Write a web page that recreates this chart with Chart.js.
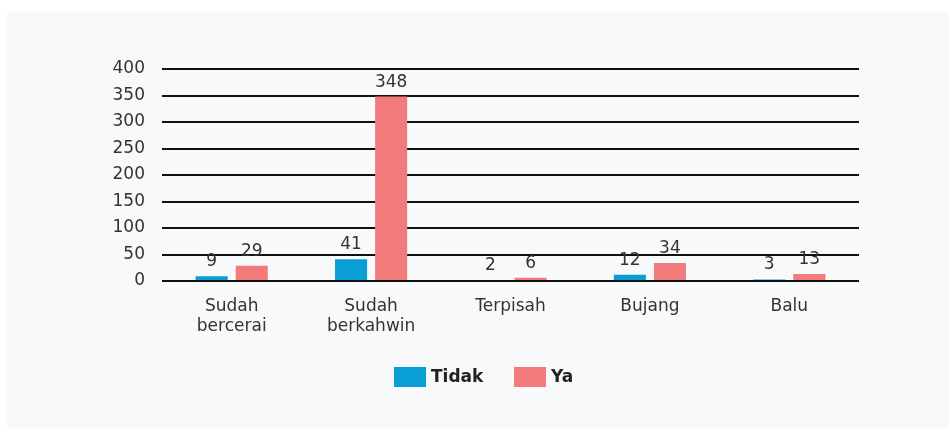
<!DOCTYPE html>
<html>
<head>
<meta charset="utf-8">
<script src="https://cdn.jsdelivr.net/npm/chart.js@4/dist/chart.umd.min.js"></script>
<style>
  html, body { margin: 0; padding: 0; background: #ffffff; }
  #panel { position: absolute; left: 7px; top: 12px; width: 942px; height: 416px; background: #f8f9fb; }
  #c { position: absolute; left: 0; top: 0; }
</style>
</head>
<body>
<div id="panel"></div>
<canvas id="c" width="949" height="428"></canvas>
<script>
const categories = [["Sudah", "bercerai"], ["Sudah", "berkahwin"], "Terpisah", "Bujang", "Balu"];
const tidakValues = [9, 41, 2, 12, 3];
const yaValues = [29, 348, 6, 34, 13];
const yTicks = [0, 50, 100, 150, 200, 250, 300, 350, 400];
const seriesNames = ["Tidak", "Ya"];
const seriesColors = ["#0a9ed6", "#f27b7b"];

const FONT = "'DejaVu Sans', 'Open Sans', sans-serif";
const TEXT = "#333333";

const valueLabels = {
  id: 'valueLabels',
  afterDatasetsDraw(chart) {
    const ctx = chart.ctx;
    ctx.save();
    ctx.font = "17px " + FONT;
    ctx.fillStyle = TEXT;
    ctx.textAlign = 'center';
    ctx.textBaseline = 'alphabetic';
    chart.data.datasets.forEach((ds, i) => {
      chart.getDatasetMeta(i).data.forEach((bar, j) => {
        ctx.fillText(String(ds.data[j]), bar.x, bar.y - 10);
      });
    });
    ctx.restore();
  }
};

const customLegend = {
  id: 'customLegend',
  afterDraw(chart) {
    const ctx = chart.ctx;
    ctx.save();
    ctx.font = "bold 17px " + FONT;
    ctx.textBaseline = 'middle';
    ctx.textAlign = 'left';
    const starts = [394, 514];
    chart.data.datasets.forEach((ds, i) => {
      const x = starts[i];
      ctx.fillStyle = ds.backgroundColor;
      ctx.fillRect(x, 367, 32, 20);
      ctx.fillStyle = "#222222";
      ctx.fillText(ds.label, x + 37, 378);
    });
    ctx.restore();
  }
};

new Chart(document.getElementById('c'), {
  type: 'bar',
  data: {
    labels: categories,
    datasets: [
      { label: seriesNames[0], data: tidakValues, backgroundColor: seriesColors[0] },
      { label: seriesNames[1], data: yaValues, backgroundColor: seriesColors[1] }
    ]
  },
  options: {
    responsive: false,
    animation: false,
    devicePixelRatio: 1,
    layout: { padding: { top: 69, right: 90, bottom: 0, left: 0 } },
    datasets: { bar: { categoryPercentage: 0.575, barPercentage: 0.8 } },
    plugins: { legend: { display: false }, tooltip: { enabled: false } },
    scales: {
      x: {
        grid: { display: false, drawTicks: false },
        border: { display: false },
        ticks: { color: TEXT, font: { family: FONT, size: 17, lineHeight: 1.15 }, padding: 16, maxRotation: 0, autoSkip: false },
        afterFit(scale) { scale.height = 147; }
      },
      y: {
        min: 0, max: 400,
        afterBuildTicks(scale) { scale.ticks = yTicks.map(v => ({ value: v })); },
        grid: { color: '#111111', lineWidth: 2, drawTicks: false },
        border: { display: false },
        ticks: { color: TEXT, font: { family: FONT, size: 17 }, padding: 17 },
        afterFit(scale) { scale.width = 162; }
      }
    }
  },
  plugins: [valueLabels, customLegend]
});
</script>
</body>
</html>
